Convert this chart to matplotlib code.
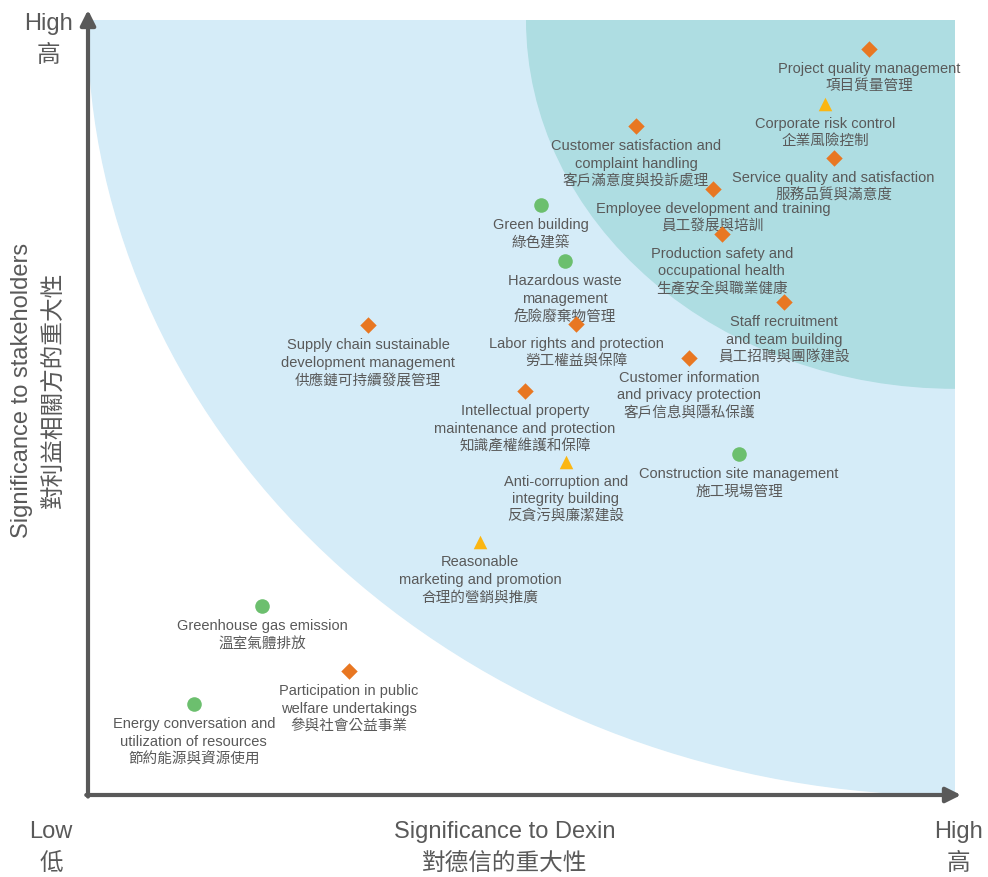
import matplotlib.pyplot as plt
from matplotlib.patches import Ellipse

plt.rcParams['font.family'] = ['Liberation Sans', 'Noto Sans CJK TC', 'DejaVu Sans']

# materiality topics: English label, Chinese label, marker kind, x (Dexin), y (stakeholders)
labels_en = [
    "Project quality management",
    "Corporate risk control",
    "Customer satisfaction and\ncomplaint handling",
    "Service quality and satisfaction",
    "Employee development and training",
    "Green building",
    "Production safety and\noccupational health",
    "Hazardous waste\nmanagement",
    "Staff recruitment\nand team building",
    "Supply chain sustainable\ndevelopment management",
    "Labor rights and protection",
    "Customer information\nand privacy protection",
    "Intellectual property\nmaintenance and protection",
    "Construction site management",
    "Anti-corruption and\nintegrity building",
    "Reasonable\nmarketing and promotion",
    "Greenhouse gas emission",
    "Participation in public\nwelfare undertakings",
    "Energy conversation and\nutilization of resources",
]
labels_zh = [
    "項目質量管理", "企業風險控制", "客戶滿意度與投訴處理", "服務品質與滿意度",
    "員工發展與培訓", "綠色建築", "生產安全與職業健康", "危險廢棄物管理",
    "員工招聘與團隊建設", "供應鏈可持續發展管理", "勞工權益與保障",
    "客戶信息與隱私保護", "知識產權維護和保障", "施工現場管理",
    "反貪污與廉潔建設", "合理的營銷與推廣", "溫室氣體排放",
    "參與社會公益事業", "節約能源與資源使用",
]
kinds = ["D", "^", "D", "D", "D", "o", "D", "o", "D", "D",
         "D", "D", "D", "o", "^", "^", "o", "D", "o"]
x_dexin = [9.01, 8.50, 6.32, 8.60, 7.21, 5.22, 7.31, 5.50, 8.03, 3.23,
           5.63, 6.93, 5.04, 7.51, 5.51, 4.52, 2.01, 3.01, 1.22]
y_stake = [9.63, 8.92, 8.63, 8.22, 7.82, 7.61, 7.24, 6.89, 6.36, 6.06,
           6.08, 5.64, 5.21, 4.40, 4.30, 3.26, 2.44, 1.60, 1.17]

marker_style = {
    "D": dict(color="#E87722", s=70),
    "^": dict(color="#FBB613", s=95),
    "o": dict(color="#6CBF6E", s=110),
}

W, H = 988, 877
fig = plt.figure(figsize=(W / 100, H / 100), dpi=100)
ax = fig.add_axes([88 / W, (H - 795) / H, 867 / W, 775 / H])
ax.set_xlim(0, 10)
ax.set_ylim(0, 10)
ax.axis("off")

# shaded zones radiating from the high/high corner
ax.add_patch(Ellipse((10, 10), 20, 20, color="#D5ECF8", zorder=0))
ax.add_patch(Ellipse((10, 10), 2 * 4.94, 2 * 4.75, color="#AEDDE2", zorder=1))

grey = "#595959"
for kind, st in marker_style.items():
    xs = [x for x, k in zip(x_dexin, kinds) if k == kind]
    ys = [y for y, k in zip(y_stake, kinds) if k == kind]
    ax.scatter(xs, ys, marker=kind, color=st["color"], s=st["s"],
               linewidths=0, zorder=4)

for x, y, en, zh in zip(x_dexin, y_stake, labels_en, labels_zh):
    ax.annotate(en + "\n" + zh, (x, y), xytext=(0, -13),
                textcoords="offset pixels", ha="center", va="top",
                fontsize=10.5, color=grey, linespacing=1.32, zorder=3)

# axes with arrow heads
arrow = dict(arrowstyle="-|>,head_length=0.9,head_width=0.45",
             color=grey, lw=3, shrinkA=0, shrinkB=0)
ax.annotate("", xy=(0, 10.13), xytext=(0, -0.02), arrowprops=arrow,
            annotation_clip=False)
ax.annotate("", xy=(10.07, 0), xytext=(-0.02, 0), arrowprops=arrow,
            annotation_clip=False)


def px(x, y):
    return x / W, 1 - y / H


txt = dict(color=grey, fontsize=17, ha="center", va="center", linespacing=1.55)
fig.text(*px(48, 40), "High\n高", **txt)
fig.text(*px(51, 848), "Low\n低", **txt)
fig.text(*px(958, 848), "High\n高", **txt)
fig.text(*px(505, 848), "Significance to Dexin\n對德信的重大性", **txt)
fig.text(*px(38, 390), "Significance to stakeholders\n對利益相關方的重大性",
         rotation=90, **txt)

fig.savefig("out.png", dpi=100)
